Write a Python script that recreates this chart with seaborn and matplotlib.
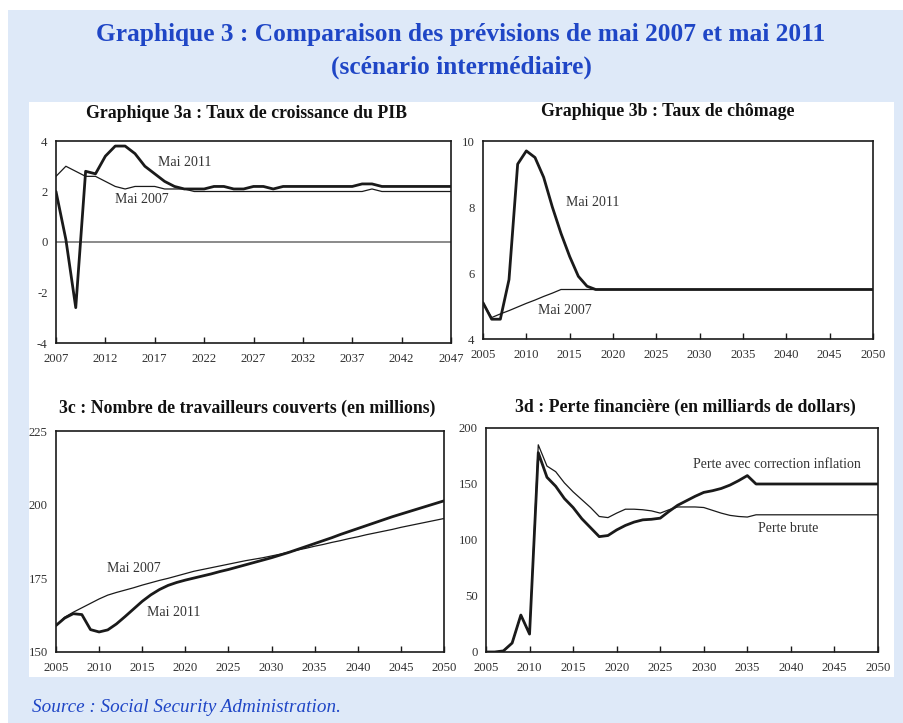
import matplotlib
matplotlib.use("Agg")
import matplotlib.pyplot as plt
from matplotlib.patches import Rectangle
import seaborn as sns
import numpy as np

# ---- data ----
years_a = list(range(2007, 2048))
gdp_2011 = [2.0, 0.1, -2.6, 2.8, 2.7, 3.4, 3.8, 3.8, 3.5, 3.0, 2.7, 2.4, 2.2, 2.1,
            2.1, 2.1, 2.2, 2.2, 2.1, 2.1, 2.2, 2.2, 2.1, 2.2, 2.2, 2.2, 2.2, 2.2,
            2.2, 2.2, 2.2, 2.3, 2.3, 2.2, 2.2, 2.2, 2.2, 2.2, 2.2, 2.2, 2.2]
gdp_2007 = [2.6, 3.0, 2.8, 2.6, 2.6, 2.4, 2.2, 2.1, 2.2, 2.2, 2.2, 2.1, 2.1, 2.1,
            2.0, 2.0, 2.0, 2.0, 2.0, 2.0, 2.0, 2.0, 2.0, 2.0, 2.0, 2.0, 2.0, 2.0,
            2.0, 2.0, 2.0, 2.0, 2.1, 2.0, 2.0, 2.0, 2.0, 2.0, 2.0, 2.0, 2.0]

years = list(range(2005, 2051))
unemp_2011 = [5.1, 4.6, 4.6, 5.8, 9.3, 9.7, 9.5, 8.9, 8.0, 7.2, 6.5, 5.9, 5.6, 5.5,
              5.5, 5.5, 5.5, 5.5, 5.5, 5.5, 5.5, 5.5, 5.5, 5.5, 5.5, 5.5, 5.5, 5.5,
              5.5, 5.5, 5.5, 5.5, 5.5, 5.5, 5.5, 5.5, 5.5, 5.5, 5.5, 5.5, 5.5, 5.5,
              5.5, 5.5, 5.5, 5.5]
unemp_2007 = [5.1, 4.65, 4.76, 4.86, 4.97, 5.08, 5.18, 5.29, 5.39, 5.5, 5.5, 5.5,
              5.5, 5.5, 5.5, 5.5, 5.5, 5.5, 5.5, 5.5, 5.5, 5.5, 5.5, 5.5, 5.5, 5.5,
              5.5, 5.5, 5.5, 5.5, 5.5, 5.5, 5.5, 5.5, 5.5, 5.5, 5.5, 5.5, 5.5, 5.5,
              5.5, 5.5, 5.5, 5.5, 5.5, 5.5]

workers_2011 = [159.0, 161.5, 163.0, 162.7, 157.6, 156.8, 157.5, 159.5, 162.0, 164.6,
                167.2, 169.4, 171.2, 172.6, 173.6, 174.4, 175.1, 175.8, 176.5, 177.3,
                178.0, 178.8, 179.6, 180.4, 181.2, 182.0, 182.9, 183.8, 184.8, 185.8,
                186.8, 187.8, 188.8, 189.9, 190.9, 191.9, 192.9, 193.9, 194.9, 195.9,
                196.8, 197.7, 198.6, 199.5, 200.4, 201.3]
workers_2007 = [159.0, 161.8, 163.5, 165.0, 166.5, 168.0, 169.3, 170.2, 171.0, 171.8,
                172.7, 173.5, 174.3, 175.0, 175.8, 176.6, 177.4, 178.0, 178.6, 179.2,
                179.8, 180.4, 181.0, 181.5, 182.0, 182.6, 183.2, 183.9, 184.6, 185.2,
                185.9, 186.5, 187.2, 187.8, 188.5, 189.1, 189.8, 190.4, 191.0, 191.6,
                192.3, 192.9, 193.5, 194.1, 194.7, 195.3]

loss_infl = [0, 0, 1, 8, 33, 16, 178, 156, 148, 137, 129, 119, 111, 103, 104, 109,
             113, 116, 118, 118.5, 119.5, 125.5, 131, 135, 139, 142.5, 144, 146, 149,
             153, 157.5, 150, 150, 150, 150, 150, 150, 150, 150, 150, 150, 150, 150,
             150, 150, 150]
loss_gross = [0, 0, 1, 8, 33, 16, 185, 166, 161, 151, 143, 136, 129, 121, 120, 124,
              127.5, 127.5, 127, 126, 124, 127, 129.5, 129.5, 129.5, 129, 126.5, 124,
              122, 121, 120.5, 122.5, 122.5, 122.5, 122.5, 122.5, 122.5, 122.5, 122.5,
              122.5, 122.5, 122.5, 122.5, 122.5, 122.5, 122.5]

main_title = ["Graphique 3 : Comparaison des prévisions de mai 2007 et mai 2011",
              "(scénario intermédiaire)"]
source_text = "Source : Social Security Administration."

# ---- style ----
sns.set_style("ticks")
plt.rcParams["font.family"] = ["Liberation Serif", "DejaVu Serif"]
plt.rcParams["axes.unicode_minus"] = False

W, H = 904, 723
BLUE_BG = "#dee9f8"
TITLE_BLUE = "#1f46c6"
INK = "#1a1a1a"
TXT = "#333333"


def rect(l, t, r, b):
    return [l / W, 1 - b / H, (r - l) / W, (b - t) / H]


fig = plt.figure(figsize=(W / 100, H / 100), dpi=100)
fig.patch.set_facecolor("white")
fig.patches.append(Rectangle((8 / W, 0), (W - 8) / W + 0.01, (H - 10) / H,
                             transform=fig.transFigure, facecolor=BLUE_BG,
                             edgecolor="none", zorder=-3))
fig.patches.append(Rectangle((29 / W, 1 - 677 / H), 865 / W, 575 / H,
                             transform=fig.transFigure, facecolor="white",
                             edgecolor="none", zorder=-2))

fig.text(461 / W, 1 - 35 / H, main_title[0], ha="center", va="center",
         fontsize=18.3, fontweight="bold", color=TITLE_BLUE)
fig.text(461 / W, 1 - 67 / H, main_title[1], ha="center", va="center",
         fontsize=18.3, fontweight="bold", color=TITLE_BLUE)
fig.text(32 / W, 1 - 707 / H, source_text, ha="left", va="center",
         fontsize=13.8, style="italic", color=TITLE_BLUE)

panels = [
    dict(box=(56, 141, 451, 343), title="Graphique 3a : Taux de croissance du PIB",
         tpos=(247, 113), x=years_a, thick=gdp_2011, thin=gdp_2007,
         xlim=(2007, 2047), ylim=(-4, 4), xt=range(2007, 2048, 5), yt=[-4, -2, 0, 2, 4],
         labels=[("Mai 2011", 2017.3, 3.15), ("Mai 2007", 2013.0, 1.7)]),
    dict(box=(483, 141, 873, 339), title="Graphique 3b : Taux de chômage",
         tpos=(668, 112), x=years, thick=unemp_2011, thin=unemp_2007,
         xlim=(2005, 2050), ylim=(4, 10), xt=range(2005, 2051, 5), yt=[4, 6, 8, 10],
         labels=[("Mai 2011", 2014.6, 8.15), ("Mai 2007", 2011.3, 4.85)]),
    dict(box=(56, 431, 444, 652), title="3c : Nombre de travailleurs couverts (en millions)",
         tpos=(247, 408), x=years, thick=workers_2011, thin=workers_2007,
         xlim=(2005, 2050), ylim=(150, 225), xt=range(2005, 2051, 5), yt=[150, 175, 200, 225],
         labels=[("Mai 2007", 2010.9, 178.4), ("Mai 2011", 2015.6, 163.5)]),
    dict(box=(486, 428, 878, 652), title="3d : Perte financière (en milliards de dollars)",
         tpos=(685, 407), x=years, thick=loss_infl, thin=loss_gross,
         xlim=(2005, 2050), ylim=(0, 200), xt=range(2005, 2051, 5), yt=[0, 50, 100, 150, 200],
         labels=[("Perte avec correction inflation", 2028.8, 167.5),
                 ("Perte brute", 2036.2, 110.7)]),
]

for p in panels:
    ax = fig.add_axes(rect(*p["box"]))
    ax.set_facecolor("white")
    if p["ylim"][0] < 0:
        ax.axhline(0, color="#777777", linewidth=1.2, zorder=1)
    sns.lineplot(x=p["x"], y=p["thin"], ax=ax, color=INK, linewidth=0.9, zorder=2)
    sns.lineplot(x=p["x"], y=p["thick"], ax=ax, color=INK, linewidth=2.0, zorder=3)
    ax.set_xlim(*p["xlim"])
    ax.set_ylim(*p["ylim"])
    ax.set_xticks(list(p["xt"]))
    ax.set_yticks(p["yt"])
    ax.tick_params(axis="x", direction="in", length=4, width=1, color=INK,
                   labelsize=9.2, labelcolor=TXT, pad=7)
    ax.tick_params(axis="y", direction="in", length=0, labelsize=9.2,
                   labelcolor=TXT, pad=6)
    for s in ax.spines.values():
        s.set_visible(True)
        s.set_linewidth(1.2)
        s.set_color(INK)
    ax.set_xlabel("")
    ax.set_ylabel("")
    for txt, lx, ly in p["labels"]:
        ax.text(lx, ly, txt, ha="left", va="center", fontsize=10, color=TXT)
    tx, ty = p["tpos"]
    fig.text(tx / W, 1 - ty / H, p["title"], ha="center", va="center",
             fontsize=12.8, fontweight="bold", color="#111111")

fig.savefig("out.png", dpi=100, facecolor=fig.get_facecolor())
